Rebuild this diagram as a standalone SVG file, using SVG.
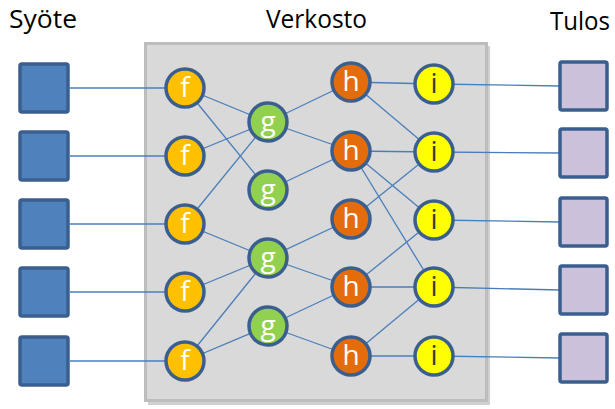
<svg xmlns="http://www.w3.org/2000/svg" width="615" height="409" viewBox="0 0 615 409">
<style>
.title{font-family:"Open Sans","Liberation Sans",sans-serif;font-size:26px;fill:#000}
.lbl{font-family:"Open Sans","Liberation Sans",sans-serif;font-size:28px;text-anchor:middle;fill:#fff}
.dark{fill:#3a3a3a}
.node{stroke:#3a5f8f;stroke-width:3.5}
.f{fill:#ffc000}.g{fill:#92d050}.h{fill:#e46c0a}.i{fill:#ffff00}
.in{fill:#4f81bd;stroke:#3a5f8f;stroke-width:3.5}
.out{fill:#ccc1da;stroke:#3a5f8f;stroke-width:3.5}
.conn line{stroke:#4a7ebb;stroke-width:1.3}
</style>
<rect width="615" height="409" fill="#fff"/>
<text class="title" x="9" y="28" textLength="68" lengthAdjust="spacingAndGlyphs">Syöte</text>
<text class="title" x="266" y="28" textLength="101" lengthAdjust="spacingAndGlyphs">Verkosto</text>
<text class="title" x="550" y="30" textLength="60" lengthAdjust="spacingAndGlyphs">Tulos</text>
<g id="network-box">
<rect x="148" y="46" width="342" height="359" fill="#b0b0b0" opacity="0.6"/>
<rect x="145.5" y="43.5" width="341" height="357" fill="#d9d9d9" stroke="#bdbdbd" stroke-width="3"/>
</g>
<g class="conn" id="connectors">
<line x1="70" y1="88" x2="185" y2="88"/>
<line x1="70" y1="156" x2="185" y2="156"/>
<line x1="70" y1="224" x2="185" y2="224"/>
<line x1="70" y1="292" x2="185" y2="292"/>
<line x1="70" y1="361" x2="185" y2="361"/>
<line x1="185" y1="88" x2="268" y2="122"/>
<line x1="185" y1="88" x2="268" y2="190"/>
<line x1="185" y1="156" x2="268" y2="122"/>
<line x1="185" y1="224" x2="268" y2="122"/>
<line x1="185" y1="224" x2="268" y2="258"/>
<line x1="185" y1="292" x2="268" y2="258"/>
<line x1="185" y1="361" x2="268" y2="258"/>
<line x1="185" y1="361" x2="268" y2="326"/>
<line x1="268" y1="122" x2="351" y2="82"/>
<line x1="268" y1="122" x2="351" y2="151"/>
<line x1="268" y1="190" x2="351" y2="151"/>
<line x1="268" y1="258" x2="351" y2="219"/>
<line x1="268" y1="258" x2="351" y2="287"/>
<line x1="268" y1="326" x2="351" y2="287"/>
<line x1="268" y1="326" x2="351" y2="356"/>
<line x1="351" y1="82" x2="434" y2="84"/>
<line x1="351" y1="82" x2="434" y2="152"/>
<line x1="351" y1="151" x2="434" y2="152"/>
<line x1="351" y1="151" x2="434" y2="220"/>
<line x1="351" y1="151" x2="434" y2="287"/>
<line x1="351" y1="219" x2="434" y2="152"/>
<line x1="351" y1="287" x2="434" y2="220"/>
<line x1="351" y1="287" x2="434" y2="287"/>
<line x1="351" y1="356" x2="434" y2="287"/>
<line x1="351" y1="356" x2="434" y2="356"/>
<line x1="434" y1="84" x2="560" y2="86"/>
<line x1="434" y1="152" x2="560" y2="153"/>
<line x1="434" y1="220" x2="560" y2="222"/>
<line x1="434" y1="287" x2="560" y2="290"/>
<line x1="434" y1="356" x2="560" y2="358"/>
</g>
<g id="in1"><rect class="in" x="20" y="64" width="48" height="48" rx="2"/></g>
<g id="in2"><rect class="in" x="20" y="132" width="48" height="48" rx="2"/></g>
<g id="in3"><rect class="in" x="20" y="200" width="48" height="48" rx="2"/></g>
<g id="in4"><rect class="in" x="20" y="268" width="48" height="48" rx="2"/></g>
<g id="in5"><rect class="in" x="20" y="337" width="48" height="48" rx="2"/></g>
<g id="f1"><circle class="node f" cx="185" cy="88" r="19"/><text class="lbl" x="185" y="97">f</text></g>
<g id="f2"><circle class="node f" cx="185" cy="156" r="19"/><text class="lbl" x="185" y="165">f</text></g>
<g id="f3"><circle class="node f" cx="185" cy="224" r="19"/><text class="lbl" x="185" y="233">f</text></g>
<g id="f4"><circle class="node f" cx="185" cy="292" r="19"/><text class="lbl" x="185" y="301">f</text></g>
<g id="f5"><circle class="node f" cx="185" cy="361" r="19"/><text class="lbl" x="185" y="370">f</text></g>
<g id="g1"><circle class="node g" cx="268" cy="122" r="19"/><text class="lbl" x="268" y="131">g</text></g>
<g id="g2"><circle class="node g" cx="268" cy="190" r="19"/><text class="lbl" x="268" y="199">g</text></g>
<g id="g3"><circle class="node g" cx="268" cy="258" r="19"/><text class="lbl" x="268" y="267">g</text></g>
<g id="g4"><circle class="node g" cx="268" cy="326" r="19"/><text class="lbl" x="268" y="335">g</text></g>
<g id="h1"><circle class="node h" cx="351" cy="82" r="19"/><text class="lbl" x="351" y="91">h</text></g>
<g id="h2"><circle class="node h" cx="351" cy="151" r="19"/><text class="lbl" x="351" y="160">h</text></g>
<g id="h3"><circle class="node h" cx="351" cy="219" r="19"/><text class="lbl" x="351" y="228">h</text></g>
<g id="h4"><circle class="node h" cx="351" cy="287" r="19"/><text class="lbl" x="351" y="296">h</text></g>
<g id="h5"><circle class="node h" cx="351" cy="356" r="19"/><text class="lbl" x="351" y="365">h</text></g>
<g id="i1"><circle class="node i" cx="434" cy="84" r="19"/><text class="lbl dark" x="434" y="93">i</text></g>
<g id="i2"><circle class="node i" cx="434" cy="152" r="19"/><text class="lbl dark" x="434" y="161">i</text></g>
<g id="i3"><circle class="node i" cx="434" cy="220" r="19"/><text class="lbl dark" x="434" y="229">i</text></g>
<g id="i4"><circle class="node i" cx="434" cy="287" r="19"/><text class="lbl dark" x="434" y="296">i</text></g>
<g id="i5"><circle class="node i" cx="434" cy="356" r="19"/><text class="lbl dark" x="434" y="365">i</text></g>
<g id="out1"><rect class="out" x="560" y="62" width="47" height="48" rx="2"/></g>
<g id="out2"><rect class="out" x="560" y="129" width="47" height="48" rx="2"/></g>
<g id="out3"><rect class="out" x="560" y="198" width="47" height="48" rx="2"/></g>
<g id="out4"><rect class="out" x="560" y="266" width="47" height="48" rx="2"/></g>
<g id="out5"><rect class="out" x="560" y="334" width="47" height="48" rx="2"/></g>
</svg>
